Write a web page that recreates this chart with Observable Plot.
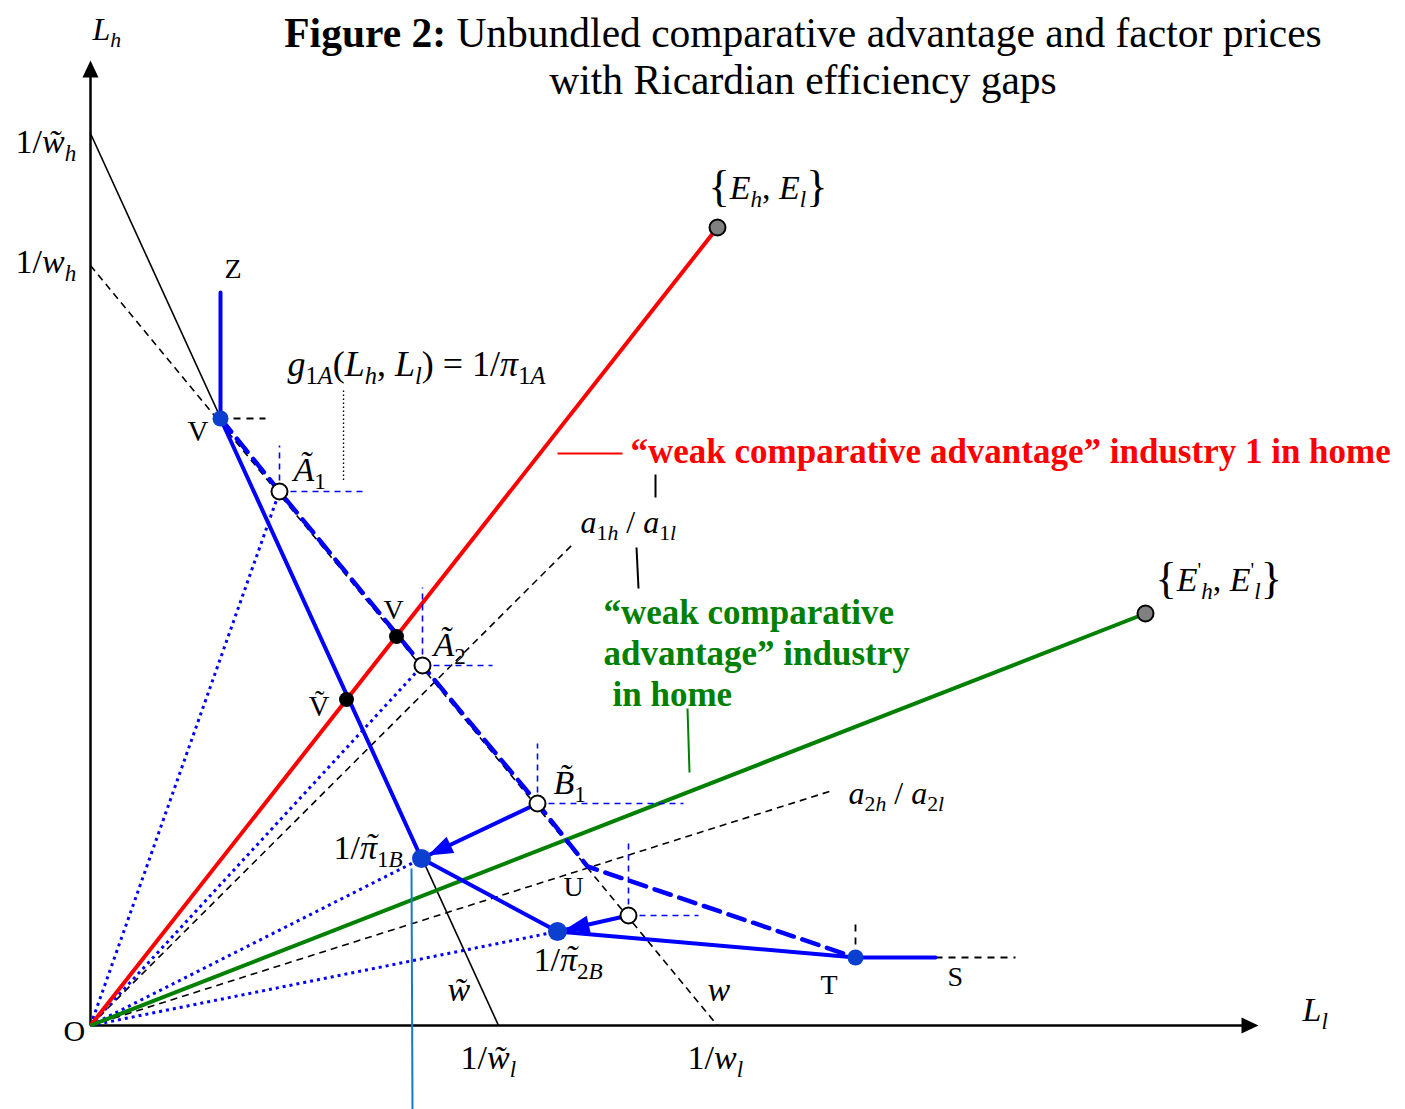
<!DOCTYPE html>
<html><head><meta charset="utf-8">
<script src="https://cdn.jsdelivr.net/npm/d3@7"></script>
<script src="https://cdn.jsdelivr.net/npm/@observablehq/plot@0.6"></script>
<style>
body{margin:0;background:#fff;}
#wrap{position:relative;width:1405px;height:1109px;}
#title{position:absolute;left:0;top:10px;width:1606px;text-align:center;font-family:"Liberation Serif","Times New Roman",serif;font-size:41.5px;line-height:47px;color:#000;pointer-events:none;}
</style></head>
<body><div id="wrap"><div id="chart"></div>
<div id="title"><b>Figure 2:</b> Unbundled comparative advantage and factor prices<br>with Ricardian efficiency gaps</div></div>
<script>
// ---------- DATA (L_l on x, L_h on y) ----------
const points = [
  {name:"O",   ll:0,     lh:0},
  {name:"Z",   ll:1.30,  lh:7.33},
  {name:"V",   ll:1.30,  lh:6.07},
  {name:"A1",  ll:1.89,  lh:5.34},
  {name:"A2",  ll:3.32,  lh:3.60},
  {name:"B1",  ll:4.47,  lh:2.22},
  {name:"B2",  ll:5.38,  lh:1.10},
  {name:"U",   ll:4.97,  lh:1.59},
  {name:"P1B", ll:3.31,  lh:1.67},
  {name:"P2B", ll:4.67,  lh:0.94},
  {name:"T",   ll:7.65,  lh:0.68},
  {name:"S",   ll:8.45,  lh:0.68},
  {name:"v",   ll:3.06,  lh:3.89},
  {name:"Vt",  ll:2.56,  lh:3.26},
  {name:"E",   ll:6.27,  lh:7.98},
  {name:"E2",  ll:10.55, lh:4.12}
];
// iso-cost lines: intercepts 1/w_h (on L_h) and 1/w_l (on L_l)
const isoCost = [
  {name:"wTilde", lh:8.92, ll:4.08},
  {name:"w",      lh:7.60, ll:6.27}
];
// technology rays a_h/a_l (end points of drawn segments)
const techRays = [
  {name:"a1", ll:4.83, lh:4.82},
  {name:"a2", ll:7.42, lh:2.35}
];
const solidFrontier = ["Z","V","P1B","P2B","T","S"];
const dashedFrontier = ["V","A1","A2","B1","U","T"];
const dottedRays = ["A1","A2","P1B","P2B"];
const corners = [
  {name:"A1", top:5.80, right:2.72},
  {name:"A2", top:4.38, right:4.02},
  {name:"B1", top:2.82, right:5.93},
  {name:"B2", top:1.87, right:6.08}
];
const kinkGuides = [
  {from:"V", ll:1.75, lh:6.07},
  {from:"T", ll:7.65, lh:1.03},
  {from:"S", ll:9.25, lh:0.68}
];
const moves = [{from:"B1", to:"P1B"}, {from:"B2", to:"P2B"}];
const axisEnds = {lh:9.65, ll:11.68};

// ---------- helpers ----------
const P = Object.fromEntries(points.map(p => [p.name, p]));
const seg = (a, b) => ({x1:a.ll, y1:a.lh, x2:b.ll, y2:b.lh});
function head(tip, ux, uy, len, hw) {
  const bx = tip[0] - ux*len, by = tip[1] - uy*len;
  return [[tip[0],tip[1]], [bx - uy*hw, by + ux*hw], [bx + uy*hw, by - ux*hw], [tip[0],tip[1]]];
}
const O = P.O;
const blue = "#0000ff", dotBlue = "#0b3fd0";

const heads = [];
moves.forEach((m, k) => {
  const a = P[m.from], b = P[m.to];
  const dx = b.ll - a.ll, dy = b.lh - a.lh, L = Math.hypot(dx, dy);
  const ux = dx/L, uy = dy/L;
  const tip = [b.ll - ux*0.07, b.lh - uy*0.07];
  head(tip, ux, uy, 0.25, 0.09).forEach(q => heads.push({id:"m"+k, x:q[0], y:q[1]}));
});
head([0, axisEnds.lh], 0, 1, 0.17, 0.08).forEach(q => heads.push({id:"ah", x:q[0], y:q[1]}));
head([axisEnds.ll, 0], 1, 0, 0.17, 0.08).forEach(q => heads.push({id:"al", x:q[0], y:q[1]}));

const leaders = [
  {x1:2.53, y1:6.35, x2:2.53, y2:5.45, c:"#000", dotted:true},
  {x1:4.67, y1:5.72, x2:5.32, y2:5.72, c:"#ff0000"},
  {x1:5.65, y1:5.51, x2:5.65, y2:5.28, c:"#000"},
  {x1:5.46, y1:4.78, x2:5.48, y2:4.37, c:"#000"},
  {x1:5.97, y1:3.17, x2:5.99, y2:2.53, c:"#008000"},
  {x1:3.21, y1:1.57, x2:3.22, y2:-0.84, c:"#1a78c8"}
];

const labels = [
  {t:"1/[i:w̃][si:h]", x:-0.75, y:8.73, s:34},
  {t:"1/[i:w][si:h]", x:-0.75, y:7.53, s:34},
  {t:"Z", x:1.34, y:7.48, s:28},
  {t:"V", x:0.97, y:5.85, s:29},
  {t:"[i:g][s:1][si:A]([i:L][si:h], [i:L][si:l]) = 1/[i:π][s:1][si:A]", x:1.97, y:6.50, s:36},
  {t:"[i:Ã][s:1]", x:2.03, y:5.45, s:34},
  {t:"V", x:2.93, y:4.07, s:28},
  {t:"Ṽ", x:2.18, y:3.10, s:29},
  {t:"[i:Ã][s:2]", x:3.43, y:3.70, s:34},
  {t:"[i:B̃][s:1]", x:4.63, y:2.32, s:34},
  {t:"1/[i:π][it:˜][s:1][si:B]", x:2.43, y:1.67, s:34},
  {t:"U", x:4.73, y:1.30, s:28},
  {t:"1/[i:π][it:˜][s:2][si:B]", x:4.43, y:0.55, s:34},
  {t:"[i:w̃]", x:3.57, y:0.25, s:34},
  {t:"[i:w]", x:6.17, y:0.25, s:34},
  {t:"T", x:7.30, y:0.32, s:28},
  {t:"S", x:8.57, y:0.40, s:28},
  {t:"O", x:-0.27, y:-0.15, s:30},
  {t:"1/[i:w̃][si:l]", x:3.70, y:-0.43, s:34},
  {t:"1/[i:w][si:l]", x:5.97, y:-0.43, s:34},
  {t:"[i:L][si:l]", x:12.12, y:0.05, s:34},
  {t:"[i:L][si:h]", x:0.02, y:9.86, s:32},
  {t:"[B:{][i:E][si:h], [i:E][si:l][B:}]", x:6.18, y:8.27, s:34},
  {t:"[B:{][i:E][p:'][si:h], [i:E][p:'][si:l][B:}]", x:10.65, y:4.35, s:34},
  {t:"[i:a][s:1][si:h] / [i:a][s:1][si:l]", x:4.90, y:4.93, s:32},
  {t:"[i:a][s:2][si:h] / [i:a][s:2][si:l]", x:7.58, y:2.22, s:32}
];
const boldLabels = [
  {t:"“weak comparative advantage” industry 1 in home", x:5.40, y:5.63, c:"#ff0000"},
  {t:"“weak comparative", x:5.13, y:4.02, c:"#008000"},
  {t:"advantage” industry", x:5.13, y:3.61, c:"#008000"},
  {t:"in home", x:5.22, y:3.20, c:"#008000"}
];

const font = "Liberation Serif";
const chart = Plot.plot({
  width:1405, height:1109, margin:0,
  x:{domain:[-0.90, 13.15], axis:null},
  y:{domain:[-0.84, 10.25], axis:null},
  style:{fontFamily:font, background:"white", overflow:"visible"},
  marks:[
    Plot.link([{x1:0,y1:0,x2:0,y2:axisEnds.lh-0.1},{x1:0,y1:0,x2:axisEnds.ll-0.1,y2:0}], {x1:"x1",y1:"y1",x2:"x2",y2:"y2",stroke:"#000",strokeWidth:2.5}),
    Plot.link([isoCost[0]], {x1:0, y1:"lh", x2:"ll", y2:0, stroke:"#000", strokeWidth:1.6}),
    Plot.link([isoCost[1]], {x1:0, y1:"lh", x2:"ll", y2:0, stroke:"#000", strokeWidth:1.6, strokeDasharray:"7,5"}),
    Plot.link(techRays, {x1:0, y1:0, x2:"ll", y2:"lh", stroke:"#000", strokeWidth:1.6, strokeDasharray:"7,5"}),
    Plot.link(dottedRays.map(n => seg(O, P[n])), {x1:"x1",y1:"y1",x2:"x2",y2:"y2", stroke:blue, strokeWidth:3, strokeDasharray:"3,4"}),
    Plot.link([seg(O, P.E)], {x1:"x1",y1:"y1",x2:"x2",y2:"y2", stroke:"#ff0000", strokeWidth:4}),
    Plot.link([seg(O, P.E2)], {x1:"x1",y1:"y1",x2:"x2",y2:"y2", stroke:"#008000", strokeWidth:4}),
    Plot.link(corners, {x1:d=>P[d.name].ll, y1:d=>P[d.name].lh, x2:d=>P[d.name].ll, y2:"top", stroke:blue, strokeWidth:1.6, strokeDasharray:"6,5"}),
    Plot.link(corners, {x1:d=>P[d.name].ll, y1:d=>P[d.name].lh, x2:"right", y2:d=>P[d.name].lh, stroke:blue, strokeWidth:1.6, strokeDasharray:"6,5"}),
    Plot.link(kinkGuides, {x1:d=>P[d.from].ll, y1:d=>P[d.from].lh, x2:"ll", y2:"lh", stroke:"#000", strokeWidth:1.8, strokeDasharray:"7,6"}),
    Plot.link(leaders.filter(d=>d.dotted), {x1:"x1",y1:"y1",x2:"x2",y2:"y2", stroke:"#000", strokeWidth:1.4, strokeDasharray:"1.5,2.5"}),
    Plot.link(leaders.filter(d=>!d.dotted), {x1:"x1",y1:"y1",x2:"x2",y2:"y2", stroke:d=>d.c, strokeWidth:2}),
    Plot.line(dashedFrontier.map(n => P[n]), {x:"ll", y:"lh", stroke:blue, strokeWidth:4.5, strokeDasharray:"17,9", strokeLinejoin:"miter"}),
    Plot.line(solidFrontier.map(n => P[n]), {x:"ll", y:"lh", stroke:blue, strokeWidth:4}),
    Plot.link(moves.map(m => seg(P[m.from], P[m.to])), {x1:"x1",y1:"y1",x2:"x2",y2:"y2", stroke:blue, strokeWidth:4}),
    Plot.line(heads, {x:"x", y:"y", z:"id", fill:d => d.id[0]==="a" ? "#000" : blue, stroke:"none"}),
    Plot.dot(["A1","A2","B1","B2"].map(n=>P[n]), {x:"ll", y:"lh", r:8, fill:"white", stroke:"#000", strokeWidth:2}),
    Plot.dot(["v","Vt"].map(n=>P[n]), {x:"ll", y:"lh", r:7.5, fill:"#000"}),
    Plot.dot(["E","E2"].map(n=>P[n]), {x:"ll", y:"lh", r:8, fill:"#808080", stroke:"#000", strokeWidth:2}),
    Plot.dot(["V","T"].map(n=>P[n]), {x:"ll", y:"lh", r:8, fill:dotBlue}),
    Plot.dot(["P1B","P2B"].map(n=>P[n]), {x:"ll", y:"lh", r:9.5, fill:dotBlue}),
    ...[28,29,30,32,34,36].map(s => Plot.text(labels.filter(d=>d.s===s), {x:"x", y:"y", text:"t", fontSize:s, textAnchor:"start", lineAnchor:"bottom", fill:"#000"})),
    Plot.text(boldLabels, {x:"x", y:"y", text:"t", fontSize:35, fontWeight:"bold", textAnchor:"start", lineAnchor:"bottom", fill:"c"})
  ]
});
document.getElementById("chart").appendChild(chart);

// rich-text: [i:..] italic, [s..] subscript, [p:..] superscript, [B:..] big, [t..] accent over previous glyph
const NS = "http://www.w3.org/2000/svg";
chart.querySelectorAll("text").forEach(t => {
  const s = t.textContent;
  if (!s.includes("[")) return;
  const F = parseFloat(t.closest("[font-size]").getAttribute("font-size"));
  t.textContent = "";
  const re = /\[(\w+):([^\]]*)\]|([^\[]+)/g;
  let m, cur = 0;
  const accents = [];
  let prev = null;
  while ((m = re.exec(s))) {
    const type = m[1] || "n", txt = m[1] ? m[2] : m[3];
    let off = 0, size = F;
    if (type.includes("s")) { off = 0.24*F; size = 0.68*F; }
    if (type.includes("p")) { off = -0.40*F; size = 0.6*F; }
    if (type.includes("B")) { off = 0.06*F; size = 1.3*F; }
    const ts = document.createElementNS(NS, "tspan");
    ts.setAttribute("dy", (off - cur).toFixed(2));
    cur = off;
    ts.setAttribute("font-size", size.toFixed(2));
    ts.setAttribute("font-style", type.includes("i") ? "italic" : "normal");
    ts.textContent = txt;
    t.appendChild(ts);
    if (type.includes("t") && prev) accents.push([prev, ts]);
    prev = ts;
  }
  accents.forEach(([p, a]) => {
    const pw = p.getComputedTextLength(), aw = a.getComputedTextLength();
    const dxA = -(pw + aw)/2 + 0.07*F;
    a.setAttribute("dx", dxA.toFixed(2));
    a.setAttribute("dy", (-0.05*F).toFixed(2));
    const n = a.nextSibling;
    if (n) {
      n.setAttribute("dx", (-(dxA + aw)).toFixed(2));
      n.setAttribute("dy", (parseFloat(n.getAttribute("dy")) + 0.05*F).toFixed(2));
    }
  });
});
</script></body></html>
